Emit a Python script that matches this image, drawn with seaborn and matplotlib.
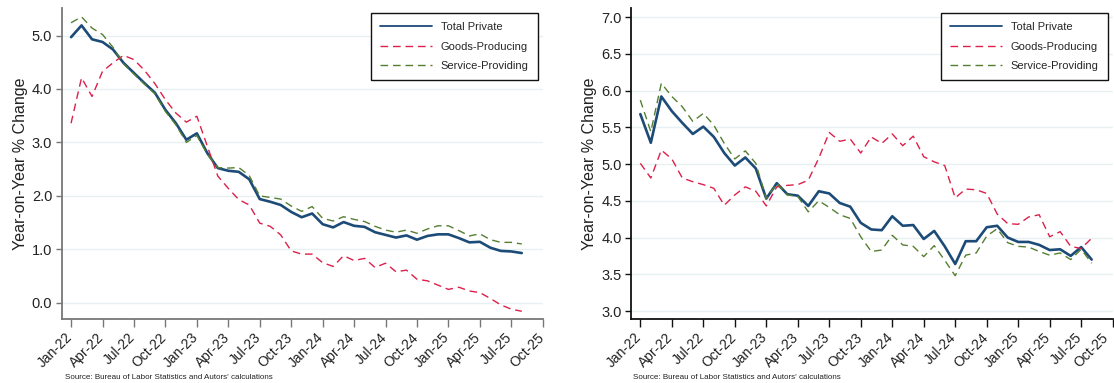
import numpy as np
import pandas as pd
import matplotlib
matplotlib.use("Agg")
import matplotlib.pyplot as plt
import matplotlib.transforms as mtransforms
import seaborn as sns

# Monthly year-on-year employment growth, Jan-2022 .. Aug-2025
tick_labels = ["Jan-22", "Apr-22", "Jul-22", "Oct-22", "Jan-23", "Apr-23", "Jul-23", "Oct-23",
               "Jan-24", "Apr-24", "Jul-24", "Oct-24", "Jan-25", "Apr-25", "Jul-25", "Oct-25"]
series_names = ["Total Private", "Goods-Producing", "Service-Providing"]

# Left panel
left_total = [4.97, 5.19, 4.93, 4.88, 4.74, 4.49, 4.30, 4.11, 3.93, 3.61, 3.36, 3.05,
              3.17, 2.80, 2.52, 2.47, 2.45, 2.31, 1.94, 1.89, 1.83, 1.70, 1.60, 1.67,
              1.47, 1.41, 1.51, 1.44, 1.42, 1.32, 1.27, 1.22, 1.26, 1.18, 1.25, 1.28,
              1.28, 1.21, 1.13, 1.14, 1.03, 0.97, 0.96, 0.93]
left_goods = [3.36, 4.21, 3.86, 4.33, 4.49, 4.63, 4.55, 4.35, 4.10, 3.80, 3.55, 3.38,
              3.49, 2.93, 2.37, 2.14, 1.93, 1.83, 1.49, 1.43, 1.27, 0.97, 0.91, 0.91,
              0.75, 0.68, 0.88, 0.79, 0.83, 0.66, 0.74, 0.58, 0.61, 0.44, 0.41, 0.33,
              0.25, 0.29, 0.22, 0.19, 0.08, -0.04, -0.12, -0.16]
left_services = [5.24, 5.35, 5.14, 5.02, 4.78, 4.47, 4.28, 4.09, 3.91, 3.58, 3.33, 3.00,
                 3.13, 2.78, 2.53, 2.52, 2.53, 2.38, 2.00, 1.97, 1.94, 1.81, 1.71, 1.80,
                 1.58, 1.53, 1.61, 1.56, 1.52, 1.43, 1.36, 1.32, 1.36, 1.30, 1.38, 1.44,
                 1.44, 1.35, 1.25, 1.29, 1.18, 1.13, 1.13, 1.10]

# Right panel
right_total = [5.68, 5.29, 5.92, 5.72, 5.56, 5.41, 5.51, 5.37, 5.15, 4.98, 5.09, 4.94,
               4.53, 4.74, 4.59, 4.57, 4.43, 4.63, 4.60, 4.47, 4.42, 4.20, 4.11, 4.10,
               4.29, 4.16, 4.17, 3.98, 4.09, 3.88, 3.64, 3.95, 3.95, 4.14, 4.16, 4.00,
               3.94, 3.94, 3.90, 3.83, 3.84, 3.75, 3.87, 3.70]
right_goods = [5.01, 4.81, 5.19, 5.07, 4.81, 4.76, 4.72, 4.67, 4.44, 4.58, 4.69, 4.63,
               4.43, 4.69, 4.71, 4.72, 4.78, 5.08, 5.43, 5.31, 5.34, 5.15, 5.37, 5.28,
               5.41, 5.25, 5.38, 5.10, 5.03, 4.98, 4.54, 4.66, 4.65, 4.60, 4.32, 4.19,
               4.18, 4.28, 4.31, 4.01, 4.08, 3.88, 3.85, 3.99]
right_services = [5.87, 5.44, 6.10, 5.92, 5.78, 5.58, 5.69, 5.53, 5.28, 5.07, 5.18, 5.01,
                  4.53, 4.74, 4.58, 4.56, 4.35, 4.50, 4.41, 4.31, 4.26, 4.01, 3.81, 3.83,
                  4.03, 3.90, 3.88, 3.74, 3.89, 3.69, 3.48, 3.76, 3.79, 4.02, 4.12, 3.93,
                  3.88, 3.87, 3.81, 3.76, 3.79, 3.70, 3.84, 3.65]

left_yticks = [0.0, 1.0, 2.0, 3.0, 4.0, 5.0]
right_yticks = [3.0, 3.5, 4.0, 4.5, 5.0, 5.5, 6.0, 6.5, 7.0]

sns.set_theme(style="white")
plt.rcParams["font.family"] = ["Liberation Sans", "DejaVu Sans"]

colors = {"Total Private": "#1d4b78",
          "Goods-Producing": "#dc1f4b",
          "Service-Providing": "#557f30"}
styles = {"Total Private": dict(lw=1.9, ls="-"),
          "Goods-Producing": dict(lw=1.0, ls=(0, (5.5, 3.5))),
          "Service-Providing": dict(lw=1.0, ls=(0, (5.5, 3.5)))}


def to_frame(total, goods, services):
    n = len(total)
    return pd.DataFrame({
        "month": np.tile(np.arange(n), 3),
        "value": np.concatenate([total, goods, services]),
        "series": np.repeat(series_names, n),
    })


def draw_panel(ax, df, ylim, yticks, spine_color, last_label_nudge=0.0):
    for name in series_names:
        sub = df[df["series"] == name]
        sns.lineplot(data=sub, x="month", y="value", ax=ax, color=colors[name],
                     label=name, **styles[name])
    ax.set_xlim(-0.86, 45)
    ax.set_ylim(*ylim)
    ax.set_xlabel("")
    ax.set_ylabel("Year-on-Year % Change", fontsize=11.5, color="#222222", labelpad=3)
    ax.yaxis.grid(True, color="#e7f0f2", lw=1.0)
    ax.xaxis.grid(False)
    ax.set_axisbelow(True)
    for side in ("top", "right"):
        ax.spines[side].set_visible(False)
    for side in ("left", "bottom"):
        ax.spines[side].set_color(spine_color)
        ax.spines[side].set_linewidth(1.3)
    ax.tick_params(axis="y", length=4, width=1, color=spine_color, pad=3, left=True)
    ax.tick_params(axis="x", length=6, width=1, color=spine_color, pad=2, bottom=True)

    ax.set_yticks(yticks)
    ax.set_yticklabels([f"{t:.1f}" for t in yticks], fontsize=10.5, color="#222222")
    ax.set_xticks(np.arange(0, 3 * len(tick_labels), 3))
    ax.set_xticklabels(tick_labels, rotation=45, ha="right", rotation_mode="anchor",
                       fontsize=10, color="#222222")
    # nudge the slanted month labels so their ends sit just under each tick
    labels = ax.get_xticklabels()
    for i, lab in enumerate(labels):
        dx = -6 - (last_label_nudge if i == len(labels) - 1 else 0)
        shift = mtransforms.ScaledTranslation(dx / 100, 0, ax.figure.dpi_scale_trans)
        lab.set_transform(lab.get_transform() + shift)

    leg = ax.legend(loc="upper right", fontsize=8, frameon=True, fancybox=False,
                    edgecolor="#111111", framealpha=1, handlelength=4.7,
                    handletextpad=0.8, labelspacing=0.85, borderpad=0.8,
                    borderaxespad=0.45)
    leg.get_frame().set_linewidth(1.0)
    for handle in leg.get_lines():
        if handle.get_linestyle() == "-":
            handle.set_linewidth(1.3)


fig = plt.figure(figsize=(11.14, 3.83), dpi=100)
ax_left = fig.add_axes([0.0557, 0.1663, 0.4315, 0.812])
ax_right = fig.add_axes([0.5667, 0.1663, 0.4321, 0.812])

draw_panel(ax_left, to_frame(left_total, left_goods, left_services),
           (-0.31, 5.51), left_yticks, "#777777")
draw_panel(ax_right, to_frame(right_total, right_goods, right_services),
           (2.887, 7.12), right_yticks, "#111111", last_label_nudge=5)

source = "Source: Bureau of Labor Statistics and Autors' calculations"
fig.text(0.058, 0.01, source, fontsize=5.8, color="#222222")
fig.text(0.568, 0.01, source, fontsize=5.8, color="#222222")

fig.savefig("out.png", dpi=100)
